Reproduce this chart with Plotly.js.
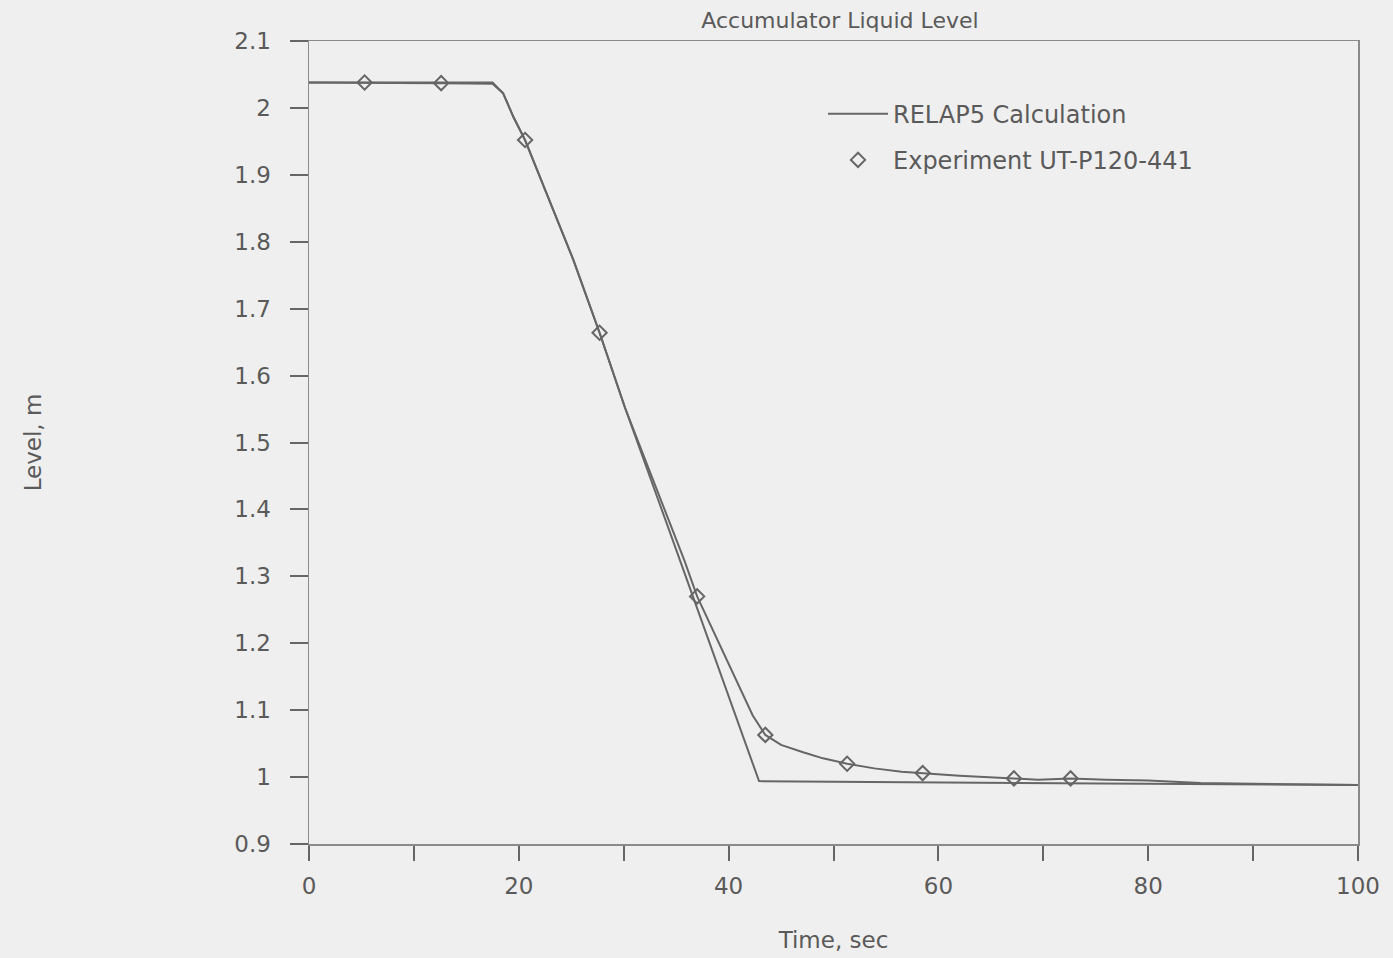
<!DOCTYPE html>
<html>
<head>
<meta charset="utf-8">
<script src="https://cdn.plot.ly/plotly-3.0.1.min.js"></script>
<style>
html, body { margin: 0; padding: 0; background: #efefef; }
#chart { width: 1393px; height: 958px; }
</style>
</head>
<body>
<div id="chart"></div>
<script>
// RELAP5 calculation (time, s / level, m)
const calcTime = [0, 17.5, 18.5, 19.5, 20.6, 25.2, 27.7, 30.1, 35, 40, 42.9, 50, 60, 70, 80, 90, 100];
const calcLevel = [2.038, 2.038, 2.022, 1.986, 1.952, 1.773, 1.664, 1.553, 1.340, 1.122, 0.994, 0.993, 0.992, 0.991, 0.990, 0.989, 0.988];

// Experiment UT-P120-441 continuous trace
const expTime = [0, 5.3, 12.6, 17.5, 18.5, 19.5, 20.6, 25.2, 27.7, 30.1, 35.8, 37.0, 42.3, 43.5, 45.0, 47.1, 49.0, 51.3, 53.9, 56.5, 58.5, 62, 67.2, 69.5, 72.6, 76, 80, 85, 90, 95, 100];
const expLevel = [2.038, 2.038, 2.037, 2.036, 2.022, 1.986, 1.952, 1.773, 1.664, 1.553, 1.323, 1.270, 1.092, 1.063, 1.048, 1.037, 1.028, 1.020, 1.013, 1.008, 1.006, 1.002, 0.998, 0.996, 0.998, 0.996, 0.995, 0.991, 0.990, 0.989, 0.988];

// Experiment symbols
const markTime = [5.3, 12.6, 20.6, 27.7, 37.0, 43.5, 51.3, 58.5, 67.2, 72.6];
const markLevel = [2.038, 2.037, 1.952, 1.664, 1.270, 1.063, 1.020, 1.006, 0.998, 0.998];

// Axis ticks
const xTickVals = [0, 10, 20, 30, 40, 50, 60, 70, 80, 90, 100];
const xTickText = ['0', '', '20', '', '40', '', '60', '', '80', '', '100'];
const yTickVals = [0.9, 1.0, 1.1, 1.2, 1.3, 1.4, 1.5, 1.6, 1.7, 1.8, 1.9, 2.0, 2.1];
const yTickText = ['0.9', '1', '1.1', '1.2', '1.3', '1.4', '1.5', '1.6', '1.7', '1.8', '1.9', '2', '2.1'];

const ink = '#666666';
const textInk = '#5a5a5a';
const fam = 'DejaVu Sans, Verdana, sans-serif';

const traces = [
  {
    x: calcTime, y: calcLevel, type: 'scatter', mode: 'lines',
    name: 'RELAP5 Calculation', legendgroup: 'a',
    line: { color: ink, width: 2 }
  },
  {
    x: expTime, y: expLevel, type: 'scatter', mode: 'lines',
    name: 'Experiment line', showlegend: false, legendgroup: 'b',
    line: { color: ink, width: 2 }
  },
  {
    x: markTime, y: markLevel, type: 'scatter', mode: 'markers',
    name: 'Experiment UT-P120-441', legendgroup: 'b',
    marker: { symbol: 'diamond-open', size: 11, color: ink, line: { color: ink, width: 2 } }
  }
];

const layout = {
  width: 1393, height: 958,
  paper_bgcolor: '#efefef', plot_bgcolor: '#efefef',
  margin: { l: 309, r: 35, t: 41, b: 114 },
  font: { family: fam, size: 20, color: textInk },
  title: {
    text: 'Accumulator Liquid Level',
    font: { family: fam, size: 22, color: textInk },
    x: 0.603, xref: 'container', xanchor: 'center',
    y: 0.979, yref: 'container', yanchor: 'middle'
  },
  showlegend: true,
  legend: {
    x: 0.49, y: 0.937, xanchor: 'left', yanchor: 'top',
    bgcolor: 'rgba(0,0,0,0)', borderwidth: 0,
    font: { family: fam, size: 24, color: textInk },
    traceorder: 'grouped', tracegroupgap: 12,
    itemwidth: 60
  },
  xaxis: {
    range: [0, 100],
    tickmode: 'array', tickvals: xTickVals, ticktext: xTickText,
    ticks: 'outside', ticklen: 15, tickwidth: 2, tickcolor: ink,
    ticklabelstandoff: 6,
    showline: true, linecolor: '#8a8a8a', linewidth: 1.5, mirror: true,
    showgrid: false, zeroline: false,
    tickfont: { family: fam, size: 23, color: textInk },
    title: { text: 'Time, sec', font: { family: fam, size: 23, color: textInk }, standoff: 34 }
  },
  yaxis: {
    range: [0.9, 2.1],
    tickmode: 'array', tickvals: yTickVals, ticktext: yTickText,
    ticks: 'outside', ticklen: 18, tickwidth: 2, tickcolor: ink,
    ticklabelstandoff: 14,
    showline: true, linecolor: '#8a8a8a', linewidth: 1.5, mirror: true,
    showgrid: false, zeroline: false,
    tickfont: { family: fam, size: 23, color: textInk },
    title: { text: 'Level, m', font: { family: fam, size: 23, color: textInk }, standoff: 186 }
  }
};

Plotly.newPlot('chart', traces, layout, { displayModeBar: false, staticPlot: true });
</script>
</body>
</html>
